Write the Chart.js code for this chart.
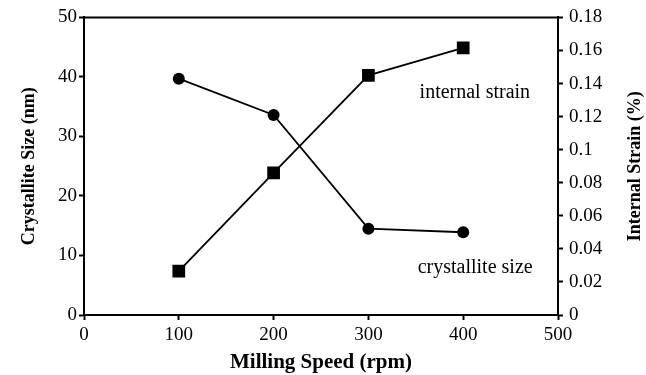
<!DOCTYPE html>
<html>
<head>
<meta charset="utf-8">
<script src="https://cdn.jsdelivr.net/npm/chart.js@4.4.0/dist/chart.umd.min.js"></script>
<style>
  html, body { margin: 0; padding: 0; background: #fff; }
  #wrap { width: 646px; height: 375px; }
</style>
</head>
<body>
<div id="wrap"><canvas id="millingChart"></canvas></div>
<script>
// milling speed vs crystallite size / internal strain
const speeds = [100, 200, 300, 400];
const crystalliteSize = [39.7, 33.6, 14.5, 13.9];   // nm
const internalStrain = [0.0265, 0.086, 0.145, 0.1616]; // %

const serif = "'Liberation Serif', 'Times New Roman', serif";
const ink = '#000';

const toPoints = (xs, ys) => xs.map((x, i) => ({ x: x, y: ys[i] }));

// top frame line, right axis title and the two in-plot captions
const framePlugin = {
  id: 'frame',
  afterDraw(chart) {
    const ctx = chart.ctx;
    const area = chart.chartArea;
    const xs = chart.scales.x;
    const ys = chart.scales.y;
    ctx.save();
    ctx.strokeStyle = ink;
    ctx.lineWidth = 2;
    ctx.beginPath();
    ctx.moveTo(area.left - 1, area.top);
    ctx.lineTo(area.right + 1, area.top);
    ctx.stroke();

    ctx.fillStyle = ink;
    ctx.font = 'bold 18px ' + serif;
    ctx.textAlign = 'center';
    ctx.textBaseline = 'middle';
    ctx.translate(635, (area.top + area.bottom) / 2);
    ctx.rotate(-Math.PI / 2);
    ctx.fillText('Internal Strain (%)', 0, 0);
    ctx.restore();

    ctx.save();
    ctx.fillStyle = ink;
    ctx.font = '20px ' + serif;
    ctx.textAlign = 'left';
    ctx.textBaseline = 'middle';
    ctx.fillText('internal strain', xs.getPixelForValue(354), ys.getPixelForValue(37.3));
    ctx.fillText('crystallite size', xs.getPixelForValue(352), ys.getPixelForValue(8));
    ctx.restore();
  }
};

new Chart(document.getElementById('millingChart'), {
  type: 'line',
  data: {
    datasets: [{
      label: 'crystallite size',
      data: toPoints(speeds, crystalliteSize),
      yAxisID: 'y',
      borderColor: ink,
      backgroundColor: ink,
      borderWidth: 1.8,
      pointStyle: 'circle',
      pointRadius: 6,
      pointBorderWidth: 0,
      tension: 0
    }, {
      label: 'internal strain',
      data: toPoints(speeds, internalStrain),
      yAxisID: 'y2',
      borderColor: ink,
      backgroundColor: ink,
      borderWidth: 1.8,
      pointStyle: 'rect',
      pointRadius: 9,
      pointBorderWidth: 0,
      tension: 0
    }]
  },
  options: {
    responsive: true,
    maintainAspectRatio: false,
    animation: false,
    layout: { padding: { top: 16, left: 0, right: 0, bottom: 0 } },
    plugins: {
      legend: { display: false },
      tooltip: { enabled: false }
    },
    scales: {
      x: {
        type: 'linear',
        min: 0,
        max: 500,
        afterFit: s => { s.height = 60; },
        ticks: { stepSize: 100, color: ink, padding: 4, font: { family: serif, size: 19 } },
        grid: { drawOnChartArea: false, tickLength: 5, tickWidth: 2, tickColor: ink },
        border: { color: ink, width: 2 },
        title: { display: true, text: 'Milling Speed (rpm)', color: ink, padding: { top: 0, bottom: 0 },
                 font: { family: serif, size: 21, weight: 'bold' } }
      },
      y: {
        position: 'left',
        min: 0,
        max: 50,
        afterFit: s => { s.width = 84; },
        ticks: { stepSize: 10, color: ink, padding: 2, font: { family: serif, size: 19 } },
        grid: { drawOnChartArea: false, tickLength: 5, tickWidth: 2, tickColor: ink },
        border: { color: ink, width: 2 },
        title: { display: true, text: 'Crystallite Size (nm)', color: ink, padding: { top: 19, bottom: 0 },
                 font: { family: serif, size: 18, weight: 'bold' } }
      },
      y2: {
        position: 'right',
        min: 0,
        max: 0.18,
        afterFit: s => { s.width = 88; },
        ticks: { stepSize: 0.02, color: ink, padding: 6, font: { family: serif, size: 19 },
                 callback: v => String(+v.toFixed(2)) },
        grid: { drawOnChartArea: false, tickLength: 5, tickWidth: 2, tickColor: ink },
        border: { color: ink, width: 2 }
      }
    }
  },
  plugins: [framePlugin]
});
</script>
</body>
</html>
